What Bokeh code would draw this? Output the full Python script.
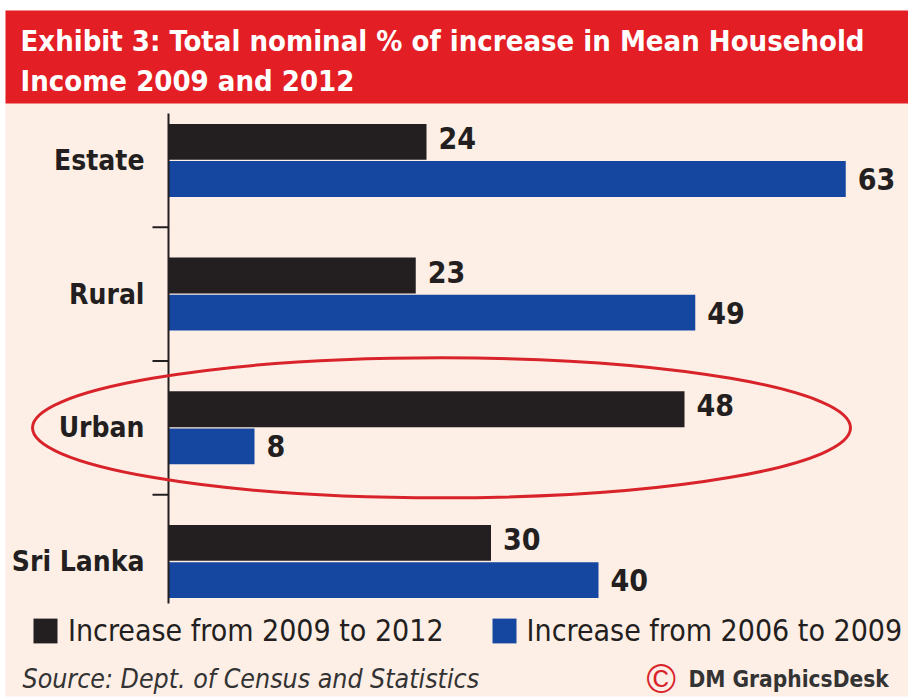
from bokeh.plotting import figure
from bokeh.models import Range1d, Legend, LegendItem, ColumnDataSource
from bokeh.transform import dodge
from bokeh.core.properties import value
from bokeh.embed import file_html
from bokeh.resources import INLINE

# ---- data ----
title_lines = ["Exhibit 3: Total nominal % of increase in Mean Household",
               "Income 2009 and 2012"]
categories = ["Estate", "Rural", "Urban", "Sri Lanka"]
inc_2009_2012 = [24, 23, 48, 30]
inc_2006_2009 = [63, 49, 8, 40]
series_names = ["Increase from 2009 to 2012", "Increase from 2006 to 2009"]
highlight = "Urban"
source_note = "Source: Dept. of Census and Statistics"
credit_mark = "\u00a9"
credit = "DM GraphicsDesk"

# ---- layout helpers (canvas pixels -> data units) ----
W, H = 908, 700
X0, KX = 168, 10.75      # pixel of zero, pixels per % point
Y0, KY = 139, 133.7      # pixel (from bottom) of last category, pixels per category


def px(x):
    return (x - X0) / KX


def py(y):
    return (H - y - Y0) / KY


NARROW = "'DejaVu Sans Condensed', 'Liberation Sans Narrow', 'Liberation Sans', sans-serif"
INK = "#231f20"
BLACK_BAR = "#231f20"
BLUE_BAR = "#1547a0"
RED = "#e31e25"
CREAM = "#fdeee6"

n = len(categories)
ypos = [n - 1 - i for i in range(n)]
src = ColumnDataSource(dict(
    cat=categories, y=ypos,
    a=inc_2009_2012, b=inc_2006_2009,
    a_txt=[str(v) for v in inc_2009_2012],
    b_txt=[str(v) for v in inc_2006_2009],
))

p = figure(width=W, height=H, x_range=Range1d(px(0), px(W)), y_range=Range1d(py(H), py(0)),
           output_backend="svg", toolbar_location=None, min_border=0,
           x_axis_type=None, y_axis_type=None, outline_line_color=None,
           background_fill_color="white", border_fill_color="white")
p.xgrid.visible = False
p.ygrid.visible = False

# background panels
p.quad(left=px(5), right=px(W), top=py(10), bottom=py(696), fill_color=CREAM, line_color=None)
p.quad(left=px(5), right=px(W), top=py(10), bottom=py(103), fill_color=RED, line_color=None)

# title
p.text(x=[px(20), px(20)], y=[py(40), py(80)], text=title_lines,
       text_font=value(NARROW), text_font_size="29px", text_font_style="bold",
       text_color="white", text_baseline="middle")

# bars
off, bh = 0.139, 0.268
r1 = p.hbar(y=dodge("y", off), left=0, right="a", height=bh, source=src,
            fill_color=BLACK_BAR, line_color=None)
r2 = p.hbar(y=dodge("y", -off), left=0, right="b", height=bh, source=src,
            fill_color=BLUE_BAR, line_color=None)

# value labels
p.text(x="a", y=dodge("y", off + 0.03), text="a_txt", source=src, x_offset=12,
       text_font=value(NARROW), text_font_size="30px", text_font_style="bold",
       text_color=INK, text_baseline="middle")
p.text(x="b", y=dodge("y", -off), text="b_txt", source=src, x_offset=12,
       text_font=value(NARROW), text_font_size="30px", text_font_style="bold",
       text_color=INK, text_baseline="middle")

# category labels
p.text(x=0, y="y", text="cat", source=src, x_offset=-24,
       text_font=value(NARROW), text_font_size="28px", text_font_style="bold",
       text_color=INK, text_align="right", text_baseline="middle")

# axis line and ticks
p.segment(x0=[0], x1=[0], y0=[py(603)], y1=[py(113)], line_color=INK, line_width=2)
ticks = [v - 0.5 for v in ypos[:-1]]
p.segment(x0=[px(152)] * len(ticks), x1=[0] * len(ticks), y0=ticks, y1=ticks,
          line_color=INK, line_width=2)

# highlight ellipse
hy = ypos[categories.index(highlight)]
p.ellipse(x=[px(441)], y=[hy], width=818 / KX, height=140 / KY,
          fill_color=None, line_color="#d8232a", line_width=3)

# legend
legend = Legend(items=[LegendItem(label=series_names[0], renderers=[r1]),
                       LegendItem(label=series_names[1], renderers=[r2])],
                orientation="horizontal", location=(30, 52),
                padding=0, margin=0, spacing=45, label_standoff=8,
                glyph_width=30, glyph_height=31,
                label_text_font=NARROW, label_text_font_size="30px",
                label_text_color=INK, border_line_color=None,
                background_fill_alpha=0)
p.add_layout(legend)

# footer
p.text(x=[px(22)], y=[py(678)], text=[source_note],
       text_font=value(NARROW), text_font_size="26.5px", text_font_style="italic",
       text_color="#333333", text_baseline="middle")
p.text(x=[px(646)], y=[py(678)], text=[credit_mark],
       text_font=value("Liberation Sans"), text_font_size="40px",
       text_color="#d8232a", text_baseline="middle")
p.text(x=[px(688)], y=[py(678)], text=[credit],
       text_font=value(NARROW), text_font_size="22.5px", text_font_style="bold",
       text_color="#333333", text_baseline="middle")

open("out.html", "w").write(file_html(p, INLINE))
